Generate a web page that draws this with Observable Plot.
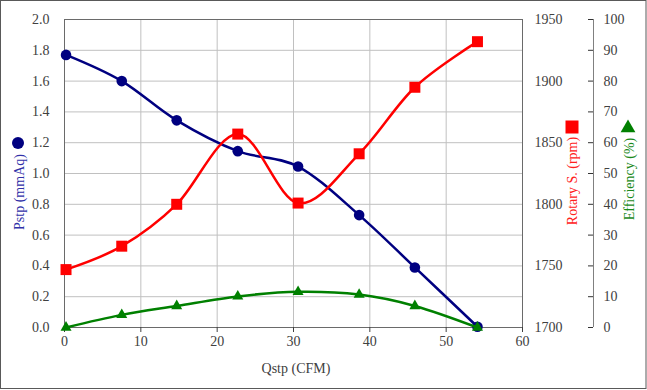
<!DOCTYPE html>
<html>
<head>
<meta charset="utf-8">
<script src="https://cdn.jsdelivr.net/npm/d3@7"></script>
<script src="https://cdn.jsdelivr.net/npm/@observablehq/plot@0.6"></script>
<style>
  body { margin: 0; background: white; }
</style>
</head>
<body>
<div id="chart"></div>
<script>
// ---- data ----
const qstp = [0.2, 7.5, 14.7, 22.7, 30.6, 38.6, 45.9, 54.1];
const pstp = [1.77, 1.60, 1.345, 1.145, 1.045, 0.73, 0.39, 0.005];
const rotary = [1747, 1766, 1800, 1857, 1801, 1841, 1895, 1932];
const efficiency = [0, 4.1, 7.0, 10.1, 11.6, 10.7, 7.0, 0];

const xTicks = [0, 10, 20, 30, 40, 50, 60];
const pstpTicks = [0, 0.2, 0.4, 0.6, 0.8, 1.0, 1.2, 1.4, 1.6, 1.8, 2.0];
const rpmTicks = [1700, 1750, 1800, 1850, 1900, 1950];
const effTicks = [0, 10, 20, 30, 40, 50, 60, 70, 80, 90, 100];

const rpmDomain = [1700, 1950];
const effDomain = [0, 100];
const pstpDomain = [0, 2];

// secondary axes mapped onto the primary (Pstp) scale
const toRpm = d3.scaleLinear().domain(rpmDomain).range(pstpDomain);
const toEff = d3.scaleLinear().domain(effDomain).range(pstpDomain);

const rows = qstp.map((q, i) => ({
  q, p: pstp[i], r: toRpm(rotary[i]), e: toEff(efficiency[i])
}));

const FONT = "Liberation Serif, Times New Roman, serif";
const TXT = "#404040";
const GRID = "#c0c0c0";

const svg = Plot.plot({
  width: 647,
  height: 390,
  marginLeft: 64,
  marginRight: 125,
  marginTop: 19,
  marginBottom: 63,
  style: { background: "white", overflow: "visible", color: TXT },
  x: { domain: [0, 60], label: null },
  y: { domain: pstpDomain, label: null },
  marks: [
    Plot.gridX(xTicks.slice(1, -1), { stroke: GRID, strokeOpacity: 1 }),
    Plot.gridY(pstpTicks.slice(1, -1), { stroke: GRID, strokeOpacity: 1 }),
    Plot.frame({ stroke: "#6a6a6a" }),
    Plot.axisX(xTicks, { tickSize: 5, tickPadding: 4, label: null, tickFormat: d => String(d) }),
    Plot.axisY(pstpTicks, { anchor: "left", tickSize: 0, tickPadding: 15, label: null,
      tickFormat: d3.format(".1f") }),
    Plot.axisY(rpmTicks.map(toRpm), { anchor: "right", tickSize: 0, tickPadding: 12, label: null,
      tickFormat: d => String(Math.round(toRpm.invert(d))) }),
    Plot.ruleX([60], { dx: 71, stroke: "#808080" }),
    Plot.axisY(effTicks.map(toEff), { anchor: "left", tickSize: 5, dx: 529, stroke: "#333", label: null,
      tickFormat: () => "" }),
    Plot.axisY(effTicks.map(toEff), { anchor: "right", tickSize: 0, tickPadding: 10, dx: 71, label: null,
      tickFormat: d => String(Math.round(toEff.invert(d))) }),
    // Pstp
    Plot.line(rows, { x: "q", y: "p", stroke: "#000080", strokeWidth: 2.5, curve: "cardinal", tension: 0 }),
    Plot.dot(rows, { x: "q", y: "p", r: 5.3, fill: "#000080", symbol: "circle" }),
    // Rotary speed
    Plot.line(rows, { x: "q", y: "r", stroke: "#ff0000", strokeWidth: 2.5, curve: "cardinal", tension: 0 }),
    Plot.dot(rows, { x: "q", y: "r", r: 6.2, fill: "#ff0000", symbol: "square" }),
    // Efficiency
    Plot.line(rows, { x: "q", y: "e", stroke: "#008000", strokeWidth: 2.5, curve: "cardinal", tension: 0 }),
    Plot.dot(rows, { x: "q", y: "e", r: 4.1, fill: "#008000", symbol: "triangle" })
  ]
});

const s = d3.select(svg);
s.attr("font-family", FONT).attr("font-size", 14);
// force serif 14px on every axis label
s.selectAll("g[aria-label$='tick label']").attr("font-family", FONT).attr("font-size", 14)
  .style("font-family", FONT).style("font-size", "14px");
s.selectAll("text").style("font-family", FONT).style("font-size", "14px");

// outer chart border
s.append("rect").attr("x", 0.5).attr("y", 0.5).attr("width", 645.5).attr("height", 388)
  .attr("fill", "none").attr("stroke", "#595959");

const titles = s.append("g").attr("font-family", FONT).attr("font-size", 14);
// x title
titles.append("text").attr("x", 296).attr("y", 368).attr("text-anchor", "middle")
  .attr("dominant-baseline", "central").attr("fill", TXT).text("Qstp (CFM)");
// left title
titles.append("text").attr("transform", "translate(19,192) rotate(-90)").attr("text-anchor", "middle")
  .attr("dominant-baseline", "central").attr("fill", "#3030a8").text("Pstp (mmAq)");
titles.append("path").attr("transform", "translate(18,143)")
  .attr("d", d3.symbol(d3.symbolCircle, Math.PI * 6 * 6)()).attr("fill", "#000080");
// rotary title
titles.append("text").attr("transform", "translate(572,181) rotate(-90)").attr("text-anchor", "middle")
  .attr("dominant-baseline", "central").attr("fill", "#ff2020").text("Rotary S. (rpm)");
titles.append("path").attr("transform", "translate(572,127)")
  .attr("d", d3.symbol(d3.symbolSquare, 13 * 13)()).attr("fill", "#ff0000");
// efficiency title
titles.append("text").attr("transform", "translate(629,179) rotate(-90)").attr("text-anchor", "middle")
  .attr("dominant-baseline", "central").attr("fill", "#1a8a1a").text("Efficiency (%)");
titles.append("path").attr("transform", "translate(628,128)")
  .attr("d", d3.symbol(d3.symbolTriangle, 95)()).attr("fill", "#008000");

document.getElementById("chart").appendChild(svg);
</script>
</body>
</html>
